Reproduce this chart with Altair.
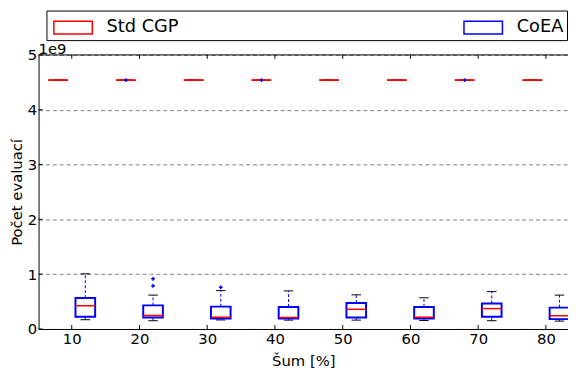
import altair as alt
import pandas as pd

# ---- data (values in units of 1e9 evaluations) ----
noise = [10, 20, 30, 40, 50, 60, 70, 80]
series_names = ["Std CGP", "CoEA"]

std_wlo = [4.54, 4.54, 4.54, 4.54, 4.54, 4.54, 4.54, 4.54]
std_q1 = [4.54, 4.54, 4.54, 4.54, 4.54, 4.54, 4.54, 4.54]
std_med = [4.54, 4.54, 4.54, 4.54, 4.54, 4.54, 4.54, 4.54]
std_q3 = [4.54, 4.54, 4.54, 4.54, 4.54, 4.54, 4.54, 4.54]
std_whi = [4.54, 4.54, 4.54, 4.54, 4.54, 4.54, 4.54, 4.54]
std_flier_x = [20, 40, 70]
std_flier_y = [4.54, 4.54, 4.54]

coea_wlo = [0.169, 0.151, 0.165, 0.162, 0.162, 0.156, 0.151, 0.144]
coea_q1 = [0.223, 0.210, 0.192, 0.192, 0.210, 0.192, 0.223, 0.180]
coea_med = [0.426, 0.246, 0.216, 0.210, 0.359, 0.216, 0.372, 0.240]
coea_q3 = [0.564, 0.431, 0.408, 0.402, 0.474, 0.402, 0.467, 0.390]
coea_whi = [1.006, 0.618, 0.700, 0.695, 0.623, 0.569, 0.682, 0.618]
coea_flier_x = [20, 20, 30]
coea_flier_y = [0.916, 0.785, 0.760]

y_ticks = [0, 1, 2, 3, 4, 5]

# ---- build tables ----
SCALE = 1e9
shift = {"Std CGP": -2.0, "CoEA": 2.0}
half_box = 1.45
half_cap = 0.7

rows = []
for name, wlo, q1, med, q3, whi in [
    ("Std CGP", std_wlo, std_q1, std_med, std_q3, std_whi),
    ("CoEA", coea_wlo, coea_q1, coea_med, coea_q3, coea_whi),
]:
    for i, n in enumerate(noise):
        p = n + shift[name]
        rows.append(dict(series=name, pos=p, left=p - half_box, right=p + half_box,
                         capl=p - half_cap, capr=p + half_cap,
                         wlo=wlo[i] * SCALE, q1=q1[i] * SCALE, med=med[i] * SCALE,
                         q3=q3[i] * SCALE, whi=whi[i] * SCALE))
box = pd.DataFrame(rows)

fl = [dict(pos=x + shift["Std CGP"], v=y * SCALE) for x, y in zip(std_flier_x, std_flier_y)]
fl += [dict(pos=x + shift["CoEA"], v=y * SCALE) for x, y in zip(coea_flier_x, coea_flier_y)]
fliers = pd.DataFrame(fl)

xt = pd.DataFrame({"t": noise})
yt = pd.DataFrame({"t": [v * SCALE for v in y_ticks]})
one = pd.DataFrame({"k": [0]})

W, H = 537, 278
FONT = "DejaVu Sans"

xs = alt.Scale(domain=[5.1, 83.26], nice=False, zero=False)
ys = alt.Scale(domain=[0, 5e9], nice=False, zero=False)

xaxis = alt.Axis(values=noise, format="d", title="Šum [%]", grid=False, ticks=False,
                 labelPadding=3, titlePadding=7,
                 labelFont=FONT, labelFontSize=15, labelColor="black",
                 titleFont=FONT, titleFontSize=15, titleFontWeight="normal", titleColor="black")
yaxis = alt.Axis(values=[v * SCALE for v in y_ticks], labelExpr="format(datum.value / 1e9, 'd')",
                 title="Počet evaluací", grid=True, gridDash=[4, 3], gridColor="#808080",
                 gridWidth=1, ticks=False, labelPadding=2, titlePadding=3,
                 labelFont=FONT, labelFontSize=15, labelColor="black",
                 titleFont=FONT, titleFontSize=15, titleFontWeight="normal", titleColor="black")

base = alt.Chart(box)

whisk_hi = base.mark_rule(color="#0000ff", strokeDash=[3, 2], strokeWidth=1).encode(
    x=alt.X("pos:Q", scale=xs, axis=xaxis),
    y=alt.Y("q3:Q", scale=ys, axis=yaxis),
    y2="whi:Q")
whisk_lo = base.mark_rule(color="#0000ff", strokeDash=[3, 2], strokeWidth=1).encode(
    x=alt.X("pos:Q", scale=xs), y=alt.Y("wlo:Q", scale=ys), y2="q1:Q")
cap_hi = base.mark_rule(color="black", strokeWidth=1).encode(
    x=alt.X("capl:Q", scale=xs), x2="capr:Q", y=alt.Y("whi:Q", scale=ys))
cap_lo = base.mark_rule(color="black", strokeWidth=1).encode(
    x=alt.X("capl:Q", scale=xs), x2="capr:Q", y=alt.Y("wlo:Q", scale=ys))
boxes = base.mark_rect(fill="white", strokeWidth=2, clip=True).encode(
    x=alt.X("left:Q", scale=xs), x2="right:Q",
    y=alt.Y("q1:Q", scale=ys), y2="q3:Q",
    stroke=alt.Stroke("series:N",
                      scale=alt.Scale(domain=series_names, range=["#ff0000", "#0000ff"]),
                      legend=alt.Legend(title=None, orient="none", legendX=8, legendY=-45,
                                        direction="horizontal", columnPadding=284,
                                        symbolType="M-1.5,-0.5H1.5V0.5H-1.5Z",
                                        symbolSize=676, symbolStrokeWidth=1.5,
                                        symbolFillColor="white", symbolOffset=10,
                                        labelFont=FONT, labelFontSize=18, labelColor="black",
                                        labelOffset=20, padding=3, strokeColor="black",
                                        fillColor="white")))
medians = base.mark_rule(color="#ff0000", strokeWidth=1.5, clip=True).encode(
    x=alt.X("left:Q", scale=xs), x2="right:Q", y=alt.Y("med:Q", scale=ys))
flier_pts = alt.Chart(fliers).mark_point(shape="cross", filled=True, color="#0000ff",
                                         size=14, opacity=1).encode(
    x=alt.X("pos:Q", scale=xs), y=alt.Y("v:Q", scale=ys))

xticks_b = alt.Chart(xt).mark_rule(color="black").encode(
    x=alt.X("t:Q", scale=xs), y=alt.value(H), y2=alt.value(H - 4))
xticks_t = alt.Chart(xt).mark_rule(color="black").encode(
    x=alt.X("t:Q", scale=xs), y=alt.value(0), y2=alt.value(4))
yticks_l = alt.Chart(yt).mark_rule(color="black").encode(
    y=alt.Y("t:Q", scale=ys), x=alt.value(0), x2=alt.value(4))
top_line = alt.Chart(one).mark_rule(color="black").encode(
    x=alt.value(0), x2=alt.value(W), y=alt.value(0))
offset_txt = alt.Chart(one).mark_text(text="1e9", align="left", baseline="alphabetic",
                                      font=FONT, fontSize=15, color="black").encode(
    x=alt.value(0), y=alt.value(-1))

chart = alt.layer(
    whisk_hi, whisk_lo, cap_hi, cap_lo, boxes, medians, flier_pts,
    xticks_b, xticks_t, yticks_l, top_line, offset_txt
).properties(
    width=W, height=H,
    autosize=alt.AutoSizeParams(type="none"),
    padding={"left": 31, "top": 45, "right": 0, "bottom": 38},
).configure_view(stroke=None).configure_axis(
    domainColor="black", domainWidth=1,
)

chart.save("out.html", embed_options={"renderer": "svg", "actions": False})
